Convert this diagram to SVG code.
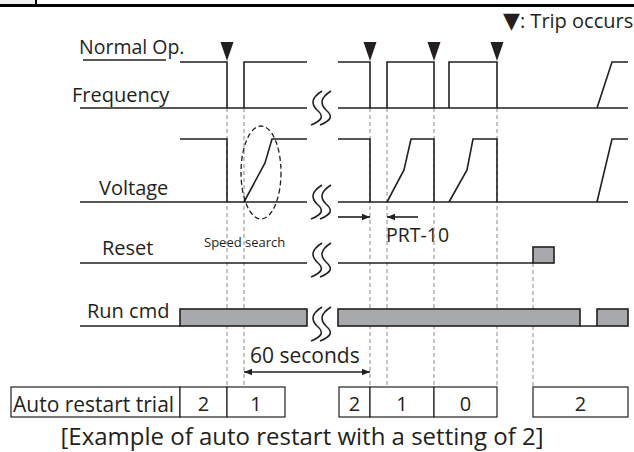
<svg xmlns="http://www.w3.org/2000/svg" width="634" height="452" viewBox="0 0 634 452">
<defs>
<style>
.t{font-family:"Open Sans","Liberation Sans",sans-serif;fill:#231f20}
.s{fill:none;stroke:#231f20;stroke-width:1.6}
.d{fill:none;stroke:#8a8a8a;stroke-width:1;stroke-dasharray:4 3}
.e{fill:none;stroke:#231f20;stroke-width:1.3;stroke-dasharray:5 3}
.g{fill:#a7a9ac;stroke:#231f20;stroke-width:1.6}
.b{fill:#fff;stroke:#231f20;stroke-width:1.2}
.q{fill:none;stroke:#231f20;stroke-width:1.6}
</style>
<marker id="ah" viewBox="0 0 10 10" refX="10" refY="5" markerWidth="8" markerHeight="8" orient="auto" markerUnits="userSpaceOnUse"><path d="M0,1 L10,5 L0,9 Z" fill="#231f20"/></marker>
<polygon id="trip" points="-6.5,0 6.5,0 0,19" fill="#231f20"/>
<g id="sq"><path d="M6,-17 C-5,-10 -5,-4 1,2 C8,8 7,12 -5,17" class="q"/><path d="M15,-17 C4,-10 4,-4 10,2 C17,8 16,12 4,17" class="q"/></g>
</defs>
<rect width="634" height="452" fill="#fff"/>
<rect x="0" y="0" width="35" height="4" fill="#eeeeee"/>
<line x1="36" y1="0" x2="36" y2="5" stroke="#000" stroke-width="2"/>
<line x1="0" y1="5.5" x2="634" y2="5.5" stroke="#000" stroke-width="3"/>

<g id="legend">
<text class="t" x="503" y="28" font-size="20"><tspan font-family="DejaVu Sans" font-size="22">▼</tspan>: Trip occurs</text>
</g>

<g id="labels">
<text class="t" x="79" y="54" font-size="19.5">Normal Op.</text>
<line x1="83" y1="60" x2="166" y2="60" class="s" stroke-width="1.2"/>
<text class="t" x="72" y="101.5" font-size="20">Frequency</text>
<text class="t" x="99" y="195" font-size="20">Voltage</text>
<text class="t" x="102" y="255" font-size="20">Reset</text>
<text class="t" x="87" y="318" font-size="20">Run cmd</text>
<text class="t" x="204" y="247" font-size="13">Speed search</text>
<text class="t" x="386" y="242" font-size="19.5">PRT-10</text>
<text class="t" x="250" y="363" font-size="21">60 seconds</text>
</g>

<g id="guides">
<line x1="227" y1="108" x2="227" y2="387" class="d"/>
<line x1="244" y1="108" x2="244" y2="387" class="d"/>
<line x1="370" y1="108" x2="370" y2="387" class="d"/>
<line x1="387" y1="108" x2="387" y2="387" class="d"/>
<line x1="434" y1="108" x2="434" y2="387" class="d"/>
<line x1="497" y1="108" x2="497" y2="387" class="d"/>
<line x1="533" y1="263" x2="533" y2="387" class="d"/>
<ellipse cx="261" cy="172.5" rx="20" ry="46.5" class="e"/>
</g>

<g id="trips">
<use href="#trip" x="227" y="42"/>
<use href="#trip" x="370" y="42"/>
<use href="#trip" x="434" y="42"/>
<use href="#trip" x="497" y="42"/>
</g>

<g id="frequency">
<path class="s" d="M180,62 H227 V108 M80,108 H307 M244,108 V62 H307"/>
<path class="s" d="M338,62 H370 V108 M387,108 V62 H434 V108 M449,108 V62 H497 V108 M338,108 H628 M597,108 L612,62 H628"/>
<use href="#sq" x="316" y="108"/>
</g>

<g id="voltage">
<path class="s" d="M180,139 H227 V202 M80,202 H307 M244,202 L265,163 L272,139 H307"/>
<path class="s" d="M338,139 H370 V202 M338,202 H628 M387,202 L404,170 L411,139 H434 V202 M449,202 L467,170 L473,139 H497 V202 M597,202 L612,139 H628"/>
<use href="#sq" x="316" y="202"/>
</g>

<g id="reset">
<path class="s" d="M80,263 H307 M338,263 H533"/>
<rect class="g" x="533" y="247" width="21" height="16"/>
<use href="#sq" x="316" y="260"/>
</g>

<g id="runcmd">
<path class="s" d="M80,326 H180 M580,326 H597"/>
<rect class="g" x="180" y="309" width="127" height="17"/>
<rect class="g" x="338" y="309" width="242" height="17"/>
<rect class="g" x="597" y="309" width="31" height="17"/>
<use href="#sq" x="316" y="324"/>
</g>

<g id="connectors">
<line x1="338" y1="217" x2="370" y2="217" class="s" stroke-width="1.2" marker-end="url(#ah)"/>
<line x1="418" y1="217" x2="387" y2="217" class="s" stroke-width="1.2" marker-end="url(#ah)"/>
<line x1="300" y1="372" x2="244" y2="372" class="s" stroke-width="1.2" marker-end="url(#ah)"/>
<line x1="300" y1="372" x2="370" y2="372" class="s" stroke-width="1.2" marker-end="url(#ah)"/>
</g>

<g id="table">
<rect class="b" x="11" y="387" width="169" height="30"/>
<rect class="b" x="180" y="387" width="47" height="30"/>
<rect class="b" x="227" y="387" width="58" height="30"/>
<rect class="b" x="339" y="387" width="31" height="30"/>
<rect class="b" x="370" y="387" width="64" height="30"/>
<rect class="b" x="434" y="387" width="63" height="30"/>
<rect class="b" x="533" y="387" width="95" height="30"/>
<text class="t" x="13" y="411.5" font-size="21">Auto restart trial</text>
<g class="t" font-size="20" text-anchor="middle">
<text x="203.5" y="411">2</text>
<text x="256" y="411">1</text>
<text x="354.5" y="411">2</text>
<text x="402" y="411">1</text>
<text x="465.5" y="411">0</text>
<text x="580.5" y="411">2</text>
</g>
</g>

<g id="caption">
<text class="t" x="302" y="445" font-size="24" text-anchor="middle">[Example of auto restart with a setting of 2]</text>
</g>
</svg>
